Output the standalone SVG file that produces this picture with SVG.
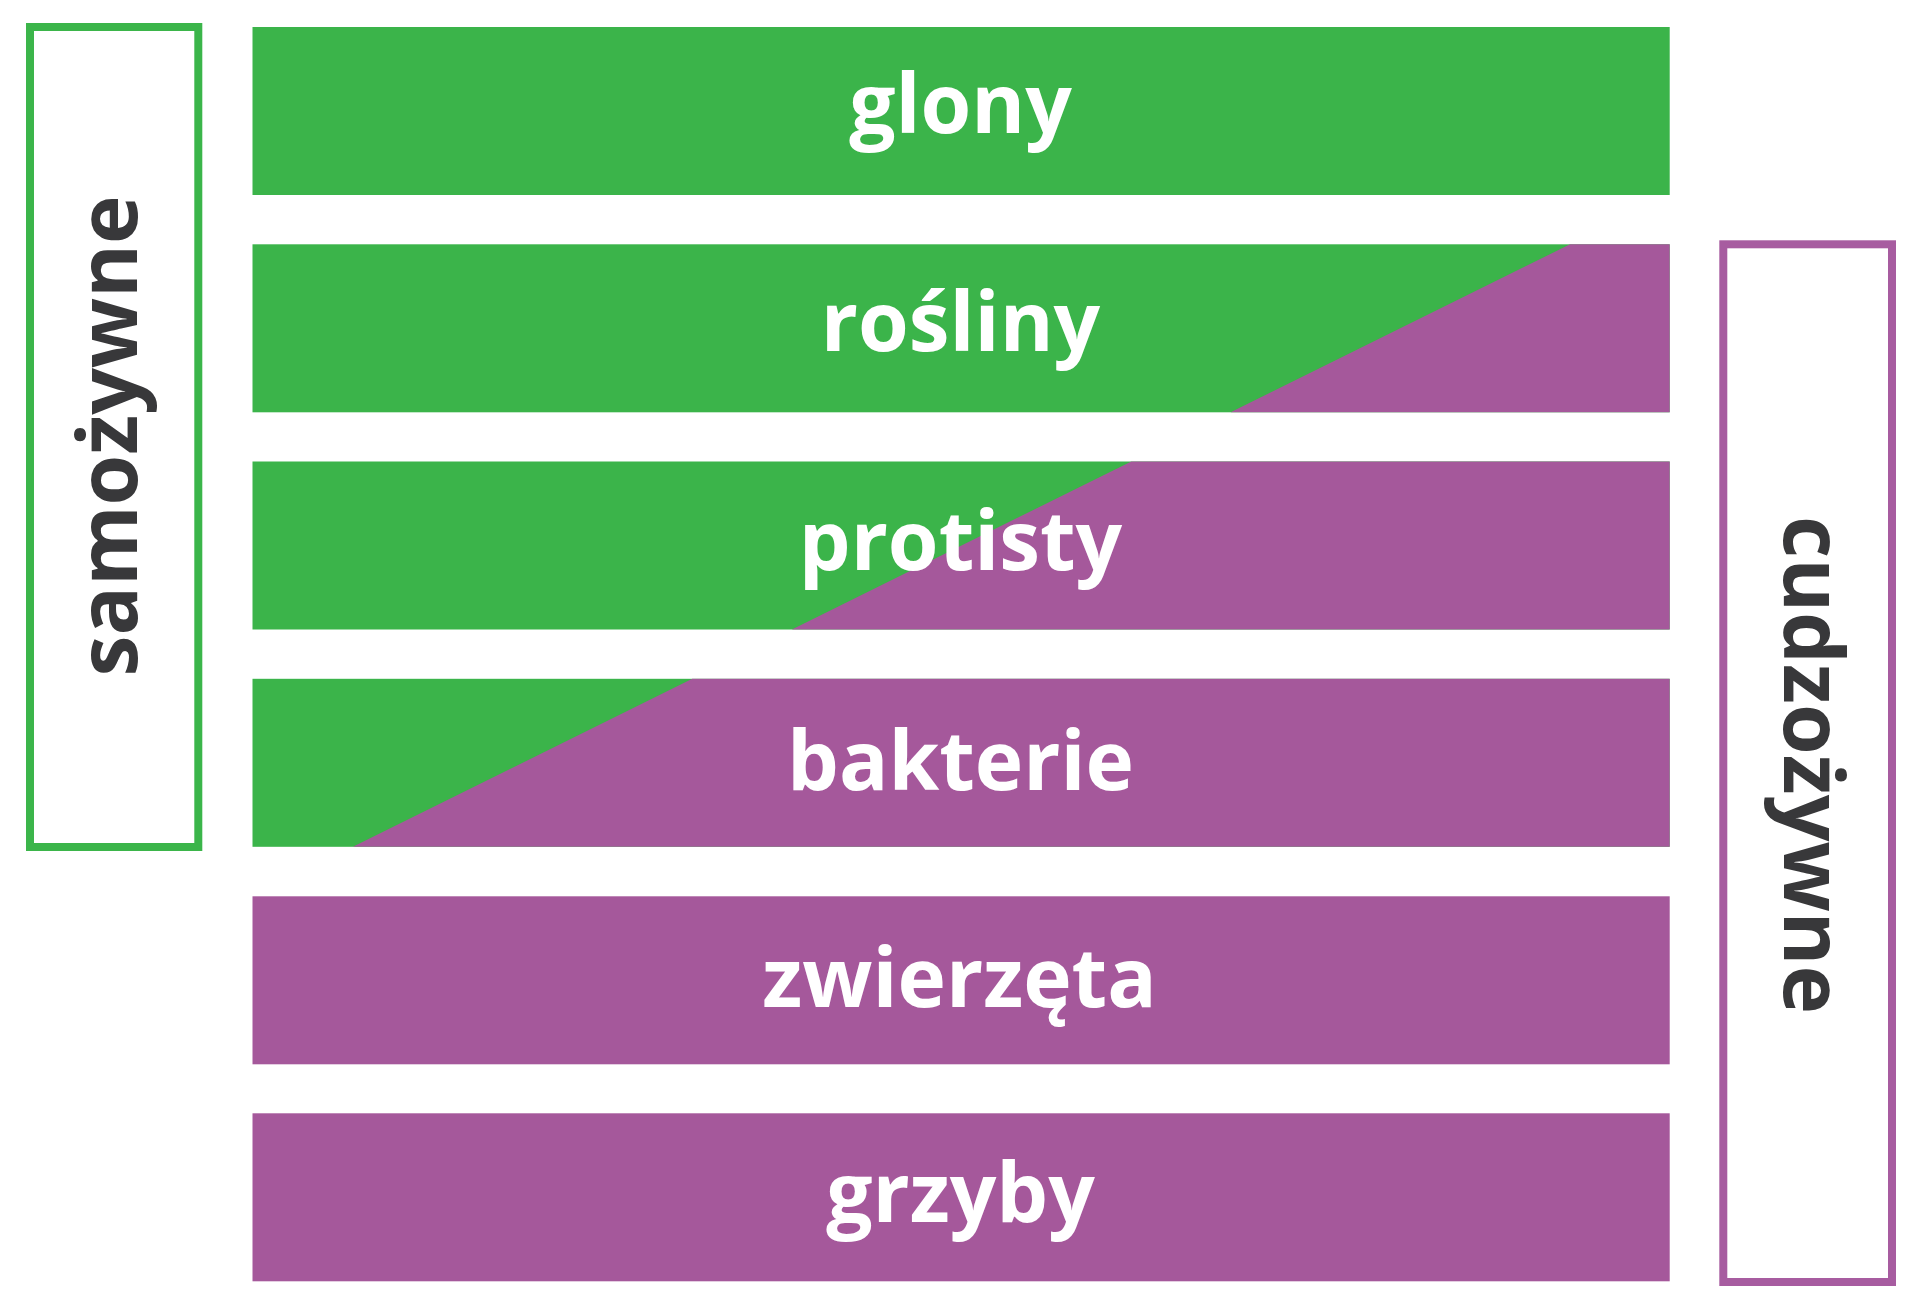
<svg xmlns="http://www.w3.org/2000/svg" width="1920" height="1309" viewBox="0 0 1920 1309">
<style>
.g{fill:#3BB44A}
.p{fill:#A5589B}
.lbl{font-family:"Open Sans","Liberation Sans",sans-serif;font-weight:700;font-size:82px;fill:#FFFFFF;text-anchor:middle}
.side{font-family:"Open Sans","Liberation Sans",sans-serif;font-weight:700;font-size:82px;fill:#38383A;text-anchor:middle}
.boxg{fill:#FFFFFF;stroke:#3BB54A;stroke-width:8}
.boxp{fill:#FFFFFF;stroke:#A75CA0;stroke-width:8}
</style>
<rect width="1920" height="1309" fill="#FFFFFF"/>
<g id="samozywne">
<rect class="boxg" x="30" y="27" width="168.3" height="820"/>
<text class="side" transform="translate(137.3,436) rotate(-90)">samożywne</text>
</g>
<g id="cudzozywne">
<rect class="boxp" x="1723.3" y="244.3" width="168.7" height="1037.7"/>
<text class="side" transform="translate(1784.3,765) rotate(90)">cudzożywne</text>
</g>
<g id="glony">
<rect class="g" x="252.5" y="27" width="1417.2" height="168"/>
<text class="lbl" x="960.5" y="132.7">glony</text>
</g>
<g id="rosliny">
<rect class="g" x="252.5" y="244.3" width="1417.2" height="168"/>
<polygon class="p" points="1570,244.3 1669.7,244.3 1669.7,412.3 1230.6,412.3"/>
<text class="lbl" x="960.5" y="351.3">rośliny</text>
</g>
<g id="protisty">
<rect class="g" x="252.5" y="461.5" width="1417.2" height="168"/>
<polygon class="p" points="1131.3,461.5 1669.7,461.5 1669.7,629.5 791.9,629.5"/>
<text class="lbl" x="960.5" y="570.3">protisty</text>
</g>
<g id="bakterie">
<rect class="g" x="252.5" y="678.8" width="1417.2" height="168"/>
<polygon class="p" points="692.3,678.8 1669.7,678.8 1669.7,846.8 352.9,846.8"/>
<text class="lbl" x="960.5" y="789.5">bakterie</text>
</g>
<g id="zwierzeta">
<rect class="p" x="252.5" y="896.3" width="1417.2" height="168"/>
<text class="lbl" x="959.5" y="1006.5">zwierzęta</text>
</g>
<g id="grzyby">
<rect class="p" x="252.5" y="1113.3" width="1417.2" height="168"/>
<text class="lbl" x="960.5" y="1221.7">grzyby</text>
</g>
<g id="connectors"/>
</svg>
